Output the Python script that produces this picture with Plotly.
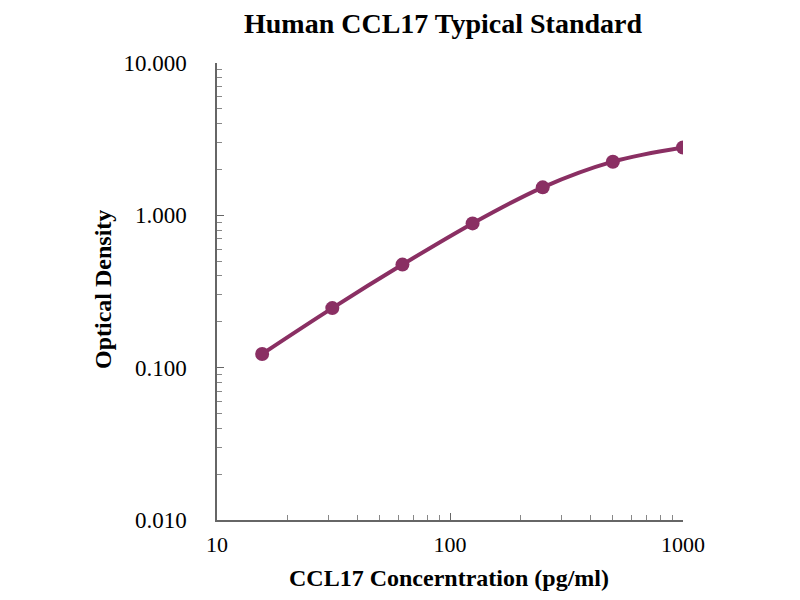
import plotly.graph_objects as go

conc = [15.625, 31.25, 62.5, 125, 250, 500, 1000]
od = [0.123, 0.246, 0.475, 0.885, 1.527, 2.25, 2.79]

x_ticks = [10, 100, 1000]
x_ticktext = ["10", "100", "1000"]
y_ticks = [0.01, 0.1, 1, 10]
y_ticktext = ["0.010", "0.100", "1.000", "10.000"]

color = "#8A2F63"
serif = "Liberation Serif, Times New Roman, serif"

x_minor = [m * d for d in (10, 100) for m in range(2, 10)]
y_minor = [m * d for d in (0.01, 0.1, 1) for m in range(2, 10)]

OFF = 8  # page body margin
W, H = 800 - OFF, 600 - OFF
L, R, T, B = 217 - OFF, 117, 63 - OFF, 80

fig = go.Figure()
fig.add_trace(go.Scatter(
    x=conc, y=od, mode="lines+markers",
    line=dict(color=color, width=4, shape="spline"),
    marker=dict(color=color, size=14),
    showlegend=False,
))

def px_x(p):
    return (p - OFF - L) / (W - L - R)

def px_y(p):
    return (H - B - (p - OFF)) / (H - T - B)

fig.update_layout(
    width=W, height=H,
    margin=dict(l=L, r=R, t=T, b=B),
    paper_bgcolor="white", plot_bgcolor="white",
    title=dict(text="<b>Human CCL17 Typical Standard</b>", x=(443 - OFF)/W, xanchor="center",
               y=1.0, yanchor="top", pad=dict(t=5, b=0),
               font=dict(family=serif, size=28, color="black")),
    font=dict(family=serif, color="black"),
    annotations=[
        dict(text="<b>CCL17 Concerntration (pg/ml)</b>", xref="paper", yref="paper",
             x=px_x(449), y=px_y(578), xanchor="center", yanchor="middle", showarrow=False,
             font=dict(family=serif, size=24, color="black")),
        dict(text="<b>Optical Density</b>", xref="paper", yref="paper",
             x=px_x(103), y=px_y(290), xanchor="center", yanchor="middle", showarrow=False,
             textangle=-90, font=dict(family=serif, size=24, color="black")),
    ],
)
fig.update_xaxes(
    type="log", range=[1, 3], automargin=False,
    tickvals=x_ticks, ticktext=x_ticktext,
    ticks="inside", ticklen=7, tickcolor="#666",
    tickfont=dict(family=serif, size=22, color="black"),
    ticklabelstandoff=4,
    showline=True, linecolor="#666", linewidth=1.5,
    showgrid=False, zeroline=False,
    minor=dict(tickvals=x_minor, ticks="inside", ticklen=5, tickcolor="#888", showgrid=False),
)
fig.update_yaxes(
    type="log", range=[-2, 1], automargin=False,
    tickvals=y_ticks, ticktext=y_ticktext,
    ticks="inside", ticklen=7, tickcolor="#666",
    tickfont=dict(family=serif, size=23, color="black"),
    ticklabelstandoff=24,
    showline=True, linecolor="#666", linewidth=1.5,
    showgrid=False, zeroline=False,
    minor=dict(tickvals=y_minor, ticks="inside", ticklen=5, tickcolor="#888", showgrid=False),
)

fig.write_html("out.html")
